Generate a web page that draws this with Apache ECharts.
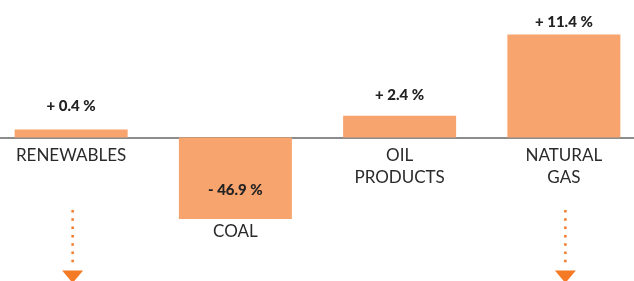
<!DOCTYPE html>
<html>
<head>
<meta charset="utf-8">
<script src="https://cdn.jsdelivr.net/npm/echarts@6/dist/echarts.min.js"></script>
<style>
  html, body { margin: 0; padding: 0; background: #fff; }
  #chart { width: 634px; height: 281px; }
</style>
</head>
<body>
<div id="chart"></div>
<script>
var categories = ['RENEWABLES', 'COAL', 'OIL\nPRODUCTS', 'NATURAL\nGAS'];
var changes = [0.4, -46.9, 2.4, 11.4];
var arrowCats = ['RENEWABLES', 'NATURAL\nGAS'];

var barColor = '#F7A46E';
var arrowColor = '#F47A26';
var labelGap = [16, 21, 13, 5];
var yMin = -9, yMax = 12;

var chart = echarts.init(document.getElementById('chart'));

var fmt = function (v) {
    return (v >= 0 ? '+ ' : '- ') + Math.abs(v).toFixed(1) + ' %';
};

var barData = changes.map(function (v, i) {
    return {
        value: v,
        label: {
            position: v >= 0 ? 'top' : 'insideBottom',
            distance: labelGap[i]
        }
    };
});

var catData = categories.map(function (c, i) {
    if (changes[i] < 0) {
        return { value: c, textStyle: { padding: [76, 0, 0, 0] } };
    }
    return c;
});

chart.setOption({
    animation: false,
    grid: { left: -11, right: -12, top: 29, bottom: 62, containLabel: false, outerBoundsMode: 'none' },
    xAxis: {
        type: 'category',
        data: catData,
        axisLine: { onZero: false, lineStyle: { color: '#8c8c8c', width: 2 } },
        axisTick: { show: false },
        axisLabel: {
            color: '#2a2a2a',
            fontFamily: 'Lato',
            fontSize: 17,
            lineHeight: 22,
            margin: 7,
            interval: 0,
            hideOverlap: false
        }
    },
    yAxis: {
        type: 'value',
        show: false,
        min: yMin,
        max: yMax,
        splitLine: { show: false }
    },
    series: [{
        type: 'bar',
        data: barData,
        barWidth: 113,
        barMinHeight: 8,
        clip: true,
        itemStyle: { color: barColor },
        label: {
            show: true,
            color: '#222',
            fontFamily: 'Lato',
            fontWeight: 900,
            fontSize: 15,
            formatter: function (p) { return fmt(p.value); }
        }
    }]
});

// move the category axis (line and labels) up to the zero line
var zeroY = chart.convertToPixel({ yAxisIndex: 0 }, 0);
var bottomY = chart.convertToPixel({ yAxisIndex: 0 }, yMin);
chart.setOption({ xAxis: { offset: zeroY - bottomY } });

// dotted arrows under the first and last categories
var graphics = arrowCats.map(function (c) {
    var x = chart.convertToPixel({ xAxisIndex: 0 }, c) + 1.5;
    return {
        type: 'group',
        children: [{
            type: 'line',
            shape: { x1: x, y1: 210, x2: x, y2: 268 },
            style: { stroke: arrowColor, lineWidth: 2.5, lineDash: [2.5, 5.8] }
        }, {
            type: 'polygon',
            shape: { points: [[x - 10.5, 270.5], [x + 10.5, 270.5], [x, 283]] },
            style: { fill: arrowColor }
        }]
    };
});
chart.setOption({ graphic: graphics });
</script>
</body>
</html>
